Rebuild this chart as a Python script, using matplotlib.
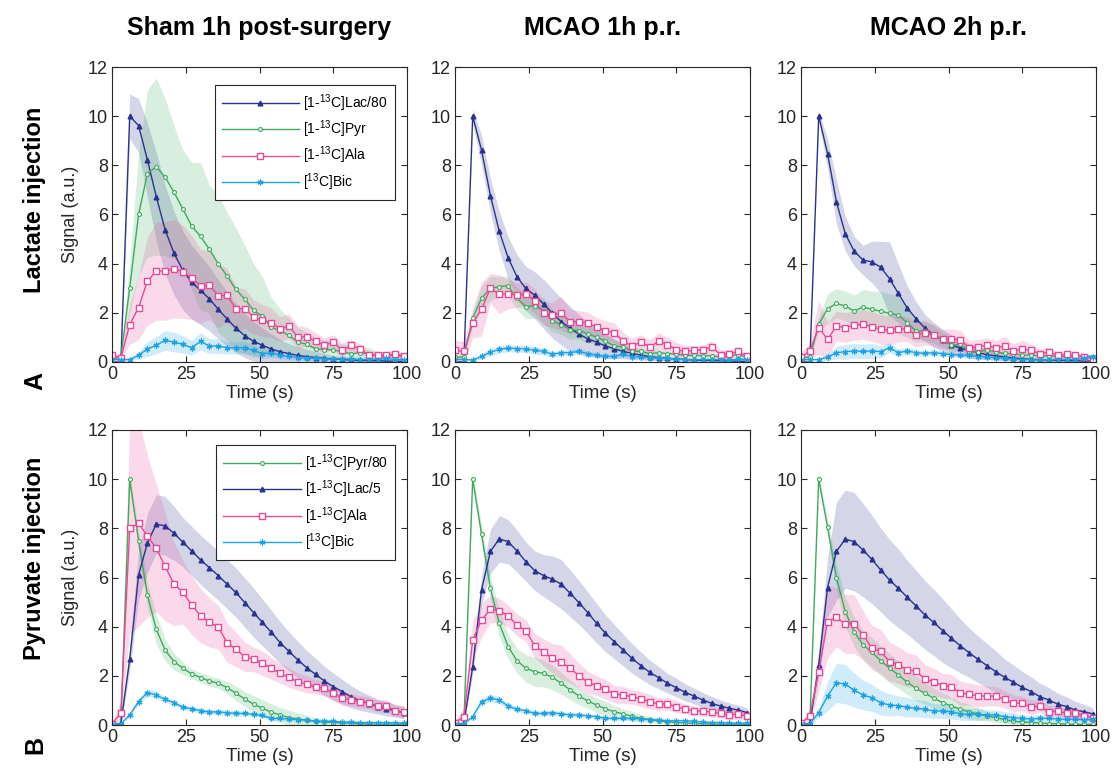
import numpy as np
import matplotlib
matplotlib.use('Agg')
import matplotlib.pyplot as plt

plt.rcParams['font.family'] = ['Liberation Sans', 'DejaVu Sans']
plt.rcParams['mathtext.fontset'] = 'custom'
plt.rcParams['mathtext.rm'] = 'Liberation Sans'
plt.rcParams['mathtext.default'] = 'regular'

# time points (s)
t = [0, 3, 6, 9, 12, 15, 18, 21, 24, 27, 30, 33, 36, 39, 42, 45, 48, 51, 54, 57,
     60, 63, 66, 69, 72, 75, 78, 81, 84, 87, 90, 93, 96, 99]

# ---- Lactate injection, Sham 1h post-surgery
a1_lac = [0, 0, 10, 9.62, 8.22, 6.73, 5.38, 4.43, 3.73, 3.25, 2.91, 2.57, 2.15, 1.75, 1.38, 1.07, 0.84, 0.68, 0.53, 0.42, 0.34, 0.27, 0.22, 0.18, 0.15, 0.12, 0.1, 0.08, 0.07, 0.06, 0.05, 0.04, 0.03, 0.03]
a1_lac_sd = [0, 0, 0.9, 1.1, 1.5, 1.8, 1.8, 1.7, 1.6, 1.5, 1.4, 1.3, 1.2, 1.1, 1.0, 0.9, 0.8, 0.7, 0.6, 0.5, 0.4, 0.35, 0.3, 0.25, 0.2, 0.15, 0.12, 0.1, 0.08, 0.06, 0.05, 0.04, 0.03, 0.03]
a1_pyr = [0.15, 0.2, 3.01, 6.0, 7.66, 7.95, 7.52, 6.91, 6.23, 5.53, 5.11, 4.59, 4.0, 3.5, 2.95, 2.56, 2.1, 1.86, 1.42, 1.26, 1.08, 0.81, 0.72, 0.54, 0.5, 0.5, 0.41, 0.34, 0.37, 0.34, 0.23, 0.23, 0.3, 0.2]
a1_pyr_sd = [0.05, 0.05, 1.0, 2.5, 3.4, 3.6, 3.2, 2.7, 2.4, 2.6, 3.0, 2.6, 2.8, 2.6, 2.5, 2.2, 1.9, 1.6, 1.2, 0.9, 0.7, 0.6, 0.5, 0.45, 0.4, 0.35, 0.3, 0.3, 0.25, 0.25, 0.2, 0.2, 0.2, 0.15]
a1_ala = [0.27, 0.16, 1.52, 2.21, 3.29, 3.7, 3.7, 3.79, 3.67, 3.43, 3.09, 3.12, 2.7, 2.71, 2.17, 2.17, 1.83, 1.69, 1.6, 1.34, 1.46, 1.02, 1.02, 0.84, 0.68, 0.81, 0.47, 0.68, 0.54, 0.3, 0.27, 0.27, 0.31, 0.24]
a1_ala_sd = [0.1, 0.1, 0.8, 1.3, 1.8, 2.0, 2.0, 2.0, 1.9, 1.7, 1.5, 1.4, 1.3, 1.1, 0.9, 0.8, 0.7, 0.65, 0.6, 0.5, 0.5, 0.45, 0.4, 0.35, 0.3, 0.3, 0.3, 0.25, 0.2, 0.15, 0.15, 0.15, 0.15, 0.1]
a1_bic = [0.1, 0.1, 0.1, 0.27, 0.53, 0.68, 0.88, 0.81, 0.72, 0.58, 0.84, 0.65, 0.65, 0.58, 0.58, 0.58, 0.47, 0.34, 0.37, 0.27, 0.23, 0.18, 0.15, 0.15, 0.13, 0.12, 0.12, 0.12, 0.1, 0.1, 0.1, 0.15, 0.1, 0.1]
a1_bic_sd = [0.05, 0.05, 0.05, 0.15, 0.3, 0.35, 0.4, 0.4, 0.35, 0.3, 0.35, 0.3, 0.3, 0.25, 0.25, 0.25, 0.2, 0.2, 0.2, 0.15, 0.15, 0.1, 0.1, 0.1, 0.1, 0.1, 0.1, 0.1, 0.1, 0.1, 0.1, 0.1, 0.1, 0.08]

# ---- Lactate injection, MCAO 1h p.r.
a2_lac = [0, 0, 10, 8.62, 6.77, 5.32, 4.24, 3.47, 2.99, 2.72, 2.36, 1.98, 1.64, 1.37, 1.14, 0.94, 0.81, 0.65, 0.54, 0.43, 0.35, 0.28, 0.22, 0.18, 0.15, 0.12, 0.1, 0.08, 0.07, 0.06, 0.05, 0.04, 0.03, 0.03]
a2_lac_sd = [0, 0, 0.3, 0.6, 0.7, 0.8, 0.85, 0.9, 0.9, 0.95, 1.0, 1.0, 0.95, 0.9, 0.8, 0.7, 0.6, 0.5, 0.4, 0.3, 0.25, 0.2, 0.15, 0.12, 0.1, 0.08, 0.07, 0.06, 0.05, 0.05, 0.04, 0.03, 0.03, 0.03]
a2_pyr = [0.2, 0.2, 1.78, 2.6, 2.99, 3.07, 3.1, 2.59, 2.25, 2.29, 2.09, 1.68, 1.52, 1.32, 1.28, 1.14, 1.01, 0.85, 0.65, 0.61, 0.44, 0.43, 0.34, 0.38, 0.34, 0.31, 0.27, 0.27, 0.25, 0.25, 0.2, 0.25, 0.3, 0.2]
a2_pyr_sd = [0.05, 0.05, 0.3, 0.5, 0.5, 0.4, 0.4, 0.45, 0.5, 0.5, 0.5, 0.45, 0.4, 0.4, 0.35, 0.35, 0.3, 0.3, 0.25, 0.2, 0.15, 0.15, 0.12, 0.1, 0.1, 0.1, 0.1, 0.1, 0.1, 0.1, 0.1, 0.1, 0.1, 0.1]
a2_ala = [0.47, 0.43, 1.58, 2.15, 3.0, 2.76, 2.76, 2.72, 2.76, 2.49, 1.99, 1.91, 1.99, 1.64, 1.64, 1.58, 1.41, 1.28, 1.19, 0.85, 0.65, 0.81, 0.61, 0.84, 0.71, 0.5, 0.43, 0.47, 0.5, 0.61, 0.3, 0.34, 0.43, 0.23]
a2_ala_sd = [0.4, 0.4, 0.6, 1.1, 0.6, 0.8, 0.6, 0.5, 0.5, 0.5, 0.5, 0.5, 0.7, 0.5, 0.45, 0.45, 0.4, 0.4, 0.4, 0.35, 0.3, 0.3, 0.3, 0.35, 0.3, 0.3, 0.25, 0.2, 0.2, 0.25, 0.2, 0.15, 0.15, 0.1]
a2_bic = [0.1, 0.1, 0.08, 0.23, 0.4, 0.51, 0.57, 0.54, 0.54, 0.47, 0.44, 0.31, 0.38, 0.38, 0.43, 0.34, 0.27, 0.23, 0.23, 0.31, 0.22, 0.2, 0.18, 0.15, 0.15, 0.12, 0.1, 0.1, 0.1, 0.1, 0.1, 0.08, 0.12, 0.1]
a2_bic_sd = [0.03, 0.03, 0.03, 0.1, 0.15, 0.15, 0.15, 0.15, 0.15, 0.15, 0.15, 0.12, 0.12, 0.12, 0.12, 0.12, 0.1, 0.1, 0.1, 0.1, 0.08, 0.08, 0.08, 0.08, 0.07, 0.07, 0.07, 0.06, 0.06, 0.06, 0.06, 0.06, 0.06, 0.06]

# ---- Lactate injection, MCAO 2h p.r.
a3_lac = [0, 0, 10, 8.48, 6.52, 5.22, 4.51, 4.15, 4.07, 3.86, 3.39, 2.79, 2.2, 1.76, 1.38, 1.11, 0.88, 0.7, 0.57, 0.46, 0.38, 0.3, 0.25, 0.2, 0.16, 0.13, 0.11, 0.09, 0.08, 0.07, 0.06, 0.05, 0.04, 0.04]
a3_lac_sd = [0, 0, 0.2, 0.6, 0.9, 0.7, 0.6, 0.6, 0.85, 1.05, 1.5, 1.2, 0.9, 0.7, 0.55, 0.5, 0.45, 0.4, 0.35, 0.3, 0.25, 0.2, 0.18, 0.15, 0.12, 0.1, 0.08, 0.07, 0.06, 0.05, 0.05, 0.04, 0.04, 0.04]
a3_pyr = [0.18, 0.2, 1.53, 2.17, 2.38, 2.28, 2.07, 2.24, 2.14, 2.07, 1.98, 1.91, 1.6, 1.26, 1.26, 1.12, 0.92, 0.68, 0.72, 0.41, 0.41, 0.49, 0.41, 0.35, 0.34, 0.28, 0.28, 0.25, 0.25, 0.22, 0.22, 0.22, 0.25, 0.22]
a3_pyr_sd = [0.05, 0.05, 0.3, 0.6, 0.6, 0.6, 0.65, 0.7, 0.75, 0.8, 0.8, 0.75, 0.6, 0.45, 0.4, 0.35, 0.3, 0.3, 0.25, 0.2, 0.2, 0.15, 0.15, 0.12, 0.12, 0.1, 0.1, 0.1, 0.1, 0.1, 0.1, 0.1, 0.1, 0.1]
a3_ala = [0.2, 0.45, 1.4, 0.92, 1.46, 1.4, 1.5, 1.53, 1.44, 1.33, 1.29, 1.36, 1.33, 1.1, 1.19, 1.08, 0.92, 0.95, 0.89, 0.58, 0.62, 0.68, 0.57, 0.65, 0.43, 0.54, 0.47, 0.34, 0.41, 0.27, 0.31, 0.28, 0.22, 0.14]
a3_ala_sd = [0.2, 0.3, 1.1, 0.7, 0.6, 0.6, 0.6, 0.6, 0.6, 0.6, 0.6, 0.55, 0.5, 0.5, 0.5, 0.45, 0.4, 0.4, 0.4, 0.3, 0.3, 0.3, 0.3, 0.4, 0.3, 0.35, 0.25, 0.2, 0.2, 0.15, 0.15, 0.15, 0.12, 0.1]
a3_bic = [0.1, 0.1, 0.1, 0.2, 0.38, 0.42, 0.45, 0.43, 0.45, 0.42, 0.58, 0.38, 0.45, 0.38, 0.35, 0.38, 0.34, 0.3, 0.28, 0.27, 0.22, 0.2, 0.18, 0.15, 0.12, 0.1, 0.1, 0.08, 0.1, 0.1, 0.1, 0.1, 0.15, 0.22]
a3_bic_sd = [0.03, 0.03, 0.05, 0.15, 0.25, 0.3, 0.3, 0.3, 0.3, 0.25, 0.2, 0.15, 0.15, 0.12, 0.12, 0.12, 0.1, 0.1, 0.1, 0.1, 0.1, 0.1, 0.08, 0.08, 0.08, 0.08, 0.08, 0.08, 0.08, 0.08, 0.08, 0.08, 0.08, 0.08]

# ---- Pyruvate injection, Sham 1h post-surgery
b1_pyr = [0.07, 0.04, 10, 7.5, 5.29, 3.89, 3.05, 2.58, 2.31, 2.08, 1.93, 1.79, 1.7, 1.52, 1.29, 1.06, 0.85, 0.68, 0.52, 0.41, 0.3, 0.25, 0.2, 0.15, 0.12, 0.1, 0.08, 0.06, 0.05, 0.04, 0.04, 0.03, 0.03, 0.03]
b1_pyr_sd = [0.03, 0.03, 0.2, 0.4, 0.5, 0.6, 0.45, 0.35, 0.25, 0.2, 0.2, 0.2, 0.2, 0.25, 0.3, 0.3, 0.35, 0.35, 0.35, 0.3, 0.3, 0.25, 0.2, 0.15, 0.12, 0.1, 0.08, 0.06, 0.05, 0.05, 0.04, 0.04, 0.03, 0.03]
b1_lac = [0.05, 0.05, 2.67, 6.1, 7.4, 8.17, 8.1, 7.8, 7.44, 7.08, 6.72, 6.4, 6.08, 5.73, 5.39, 4.98, 4.57, 4.17, 3.77, 3.35, 2.99, 2.65, 2.33, 2.06, 1.79, 1.56, 1.36, 1.15, 0.99, 0.87, 0.75, 0.66, 0.58, 0.5]
b1_lac_sd = [0.03, 0.03, 0.5, 1.0, 1.2, 1.2, 1.2, 1.1, 1.0, 1.0, 1.0, 1.0, 1.0, 1.0, 1.0, 1.0, 1.0, 0.95, 0.9, 0.85, 0.8, 0.75, 0.7, 0.65, 0.6, 0.55, 0.5, 0.45, 0.4, 0.35, 0.3, 0.3, 0.25, 0.25]
b1_ala = [0.04, 0.5, 8.0, 8.2, 7.69, 7.19, 6.45, 5.74, 5.4, 4.88, 4.45, 4.18, 3.98, 3.35, 3.08, 2.78, 2.67, 2.51, 2.31, 2.1, 1.94, 1.76, 1.66, 1.56, 1.49, 1.29, 1.09, 1.02, 0.95, 0.91, 0.77, 0.77, 0.58, 0.54]
b1_ala_sd = [0.05, 0.5, 4.3, 4.2, 3.3, 2.6, 2.2, 1.7, 1.3, 1.2, 1.1, 1.0, 0.9, 0.8, 0.7, 0.6, 0.5, 0.5, 0.45, 0.4, 0.4, 0.35, 0.35, 0.3, 0.3, 0.3, 0.3, 0.25, 0.25, 0.25, 0.25, 0.25, 0.25, 0.25]
b1_bic = [0.05, 0.05, 0.41, 0.95, 1.32, 1.22, 1.04, 0.91, 0.72, 0.66, 0.58, 0.53, 0.53, 0.5, 0.47, 0.47, 0.43, 0.39, 0.27, 0.27, 0.24, 0.22, 0.2, 0.16, 0.15, 0.15, 0.12, 0.12, 0.1, 0.1, 0.1, 0.1, 0.09, 0.08]
b1_bic_sd = [0.03, 0.03, 0.08, 0.12, 0.15, 0.15, 0.12, 0.1, 0.1, 0.1, 0.1, 0.1, 0.1, 0.12, 0.12, 0.1, 0.08, 0.08, 0.08, 0.07, 0.07, 0.07, 0.06, 0.06, 0.06, 0.06, 0.05, 0.05, 0.05, 0.05, 0.05, 0.05, 0.05, 0.05]

# ---- Pyruvate injection, MCAO 1h p.r.
b2_pyr = [0.05, 0.05, 10, 7.76, 5.56, 4.14, 3.19, 2.62, 2.31, 2.17, 2.1, 1.94, 1.7, 1.43, 1.18, 0.98, 0.81, 0.66, 0.54, 0.45, 0.35, 0.28, 0.22, 0.17, 0.13, 0.1, 0.08, 0.06, 0.05, 0.04, 0.03, 0.03, 0.03, 0.02]
b2_pyr_sd = [0.03, 0.03, 0.2, 0.4, 0.5, 0.55, 0.5, 0.5, 0.55, 0.6, 0.55, 0.5, 0.45, 0.4, 0.35, 0.3, 0.3, 0.3, 0.25, 0.2, 0.2, 0.15, 0.12, 0.1, 0.08, 0.07, 0.06, 0.05, 0.05, 0.04, 0.04, 0.03, 0.03, 0.03]
b2_lac = [0.05, 0.05, 2.37, 5.5, 7.06, 7.57, 7.46, 7.08, 6.65, 6.28, 6.08, 5.93, 5.73, 5.36, 4.98, 4.57, 4.14, 3.73, 3.39, 3.05, 2.71, 2.42, 2.14, 1.93, 1.7, 1.52, 1.33, 1.18, 1.02, 0.88, 0.77, 0.68, 0.61, 0.5]
b2_lac_sd = [0.03, 0.03, 0.3, 0.6, 0.9, 0.95, 0.9, 0.85, 0.8, 0.8, 0.85, 0.95, 1.0, 0.95, 0.9, 0.85, 0.8, 0.75, 0.7, 0.65, 0.6, 0.55, 0.5, 0.45, 0.4, 0.38, 0.35, 0.32, 0.3, 0.28, 0.25, 0.22, 0.2, 0.2]
b2_ala = [0.1, 0.34, 3.46, 4.27, 4.71, 4.65, 4.44, 4.07, 3.84, 3.23, 2.96, 2.71, 2.55, 2.31, 2.01, 1.74, 1.6, 1.45, 1.26, 1.22, 1.15, 1.06, 0.95, 0.85, 0.85, 0.75, 0.65, 0.57, 0.57, 0.52, 0.47, 0.41, 0.43, 0.38]
b2_ala_sd = [0.1, 0.3, 0.8, 0.7, 0.55, 0.5, 0.45, 0.45, 0.45, 0.5, 0.55, 0.6, 0.7, 0.6, 0.5, 0.45, 0.4, 0.4, 0.35, 0.35, 0.3, 0.3, 0.3, 0.25, 0.25, 0.25, 0.2, 0.2, 0.2, 0.2, 0.2, 0.2, 0.2, 0.2]
b2_bic = [0.05, 0.05, 0.34, 0.95, 1.09, 1.02, 0.77, 0.64, 0.58, 0.47, 0.47, 0.5, 0.45, 0.41, 0.41, 0.37, 0.34, 0.27, 0.27, 0.27, 0.27, 0.25, 0.22, 0.2, 0.17, 0.17, 0.17, 0.15, 0.12, 0.1, 0.1, 0.08, 0.08, 0.08]
b2_bic_sd = [0.03, 0.03, 0.08, 0.12, 0.15, 0.15, 0.12, 0.1, 0.1, 0.1, 0.1, 0.1, 0.1, 0.1, 0.1, 0.1, 0.08, 0.08, 0.07, 0.07, 0.07, 0.06, 0.06, 0.06, 0.05, 0.05, 0.05, 0.05, 0.05, 0.05, 0.05, 0.05, 0.05, 0.05]

# ---- Pyruvate injection, MCAO 2h p.r.
b3_pyr = [0.05, 0.05, 10, 8.05, 6.0, 4.61, 3.8, 3.26, 2.96, 2.62, 2.31, 2.04, 1.74, 1.49, 1.29, 1.09, 0.91, 0.77, 0.64, 0.54, 0.45, 0.37, 0.3, 0.22, 0.15, 0.12, 0.1, 0.08, 0.06, 0.05, 0.04, 0.03, 0.03, 0.03]
b3_pyr_sd = [0.03, 0.03, 0.2, 0.3, 0.5, 0.6, 0.6, 0.6, 0.6, 0.6, 0.6, 0.55, 0.5, 0.5, 0.45, 0.4, 0.4, 0.35, 0.3, 0.3, 0.25, 0.2, 0.2, 0.15, 0.12, 0.1, 0.08, 0.07, 0.06, 0.05, 0.05, 0.04, 0.04, 0.03]
b3_lac = [0.05, 0.05, 2.44, 5.59, 7.06, 7.56, 7.46, 7.12, 6.74, 6.31, 5.9, 5.56, 5.2, 4.84, 4.48, 4.17, 3.84, 3.53, 3.22, 2.94, 2.67, 2.42, 2.17, 1.94, 1.74, 1.53, 1.36, 1.15, 1.02, 0.85, 0.75, 0.61, 0.54, 0.45]
b3_lac_sd = [0.03, 0.03, 0.5, 1.2, 2.0, 2.0, 2.0, 1.9, 1.8, 1.7, 1.65, 1.6, 1.5, 1.45, 1.4, 1.35, 1.3, 1.2, 1.1, 1.0, 0.95, 0.9, 0.85, 0.75, 0.7, 0.65, 0.6, 0.55, 0.5, 0.45, 0.4, 0.35, 0.3, 0.25]
b3_ala = [0.07, 0.37, 2.17, 4.21, 4.38, 4.11, 4.11, 3.66, 3.15, 2.99, 2.58, 2.44, 2.24, 2.2, 1.86, 1.76, 1.6, 1.56, 1.29, 1.26, 1.18, 1.18, 1.18, 1.04, 0.88, 0.88, 0.72, 0.77, 0.54, 0.57, 0.47, 0.47, 0.38, 0.3]
b3_ala_sd = [0.05, 0.3, 0.8, 1.5, 1.2, 1.2, 1.2, 1.0, 0.9, 0.9, 0.8, 0.75, 0.7, 0.65, 0.6, 0.55, 0.5, 0.5, 0.5, 0.45, 0.45, 0.4, 0.4, 0.35, 0.35, 0.3, 0.3, 0.25, 0.25, 0.2, 0.2, 0.2, 0.15, 0.15]
b3_bic = [0.05, 0.05, 0.5, 1.18, 1.72, 1.66, 1.42, 1.22, 1.11, 0.91, 0.81, 0.79, 0.72, 0.68, 0.64, 0.57, 0.57, 0.54, 0.45, 0.43, 0.43, 0.41, 0.41, 0.34, 0.3, 0.27, 0.24, 0.27, 0.27, 0.24, 0.23, 0.23, 0.2, 0.23]
b3_bic_sd = [0.03, 0.03, 0.2, 0.6, 0.8, 0.8, 0.7, 0.6, 0.55, 0.5, 0.45, 0.4, 0.4, 0.35, 0.35, 0.3, 0.3, 0.3, 0.25, 0.25, 0.25, 0.2, 0.2, 0.2, 0.2, 0.15, 0.15, 0.15, 0.15, 0.15, 0.15, 0.15, 0.15, 0.15]

col_titles = ['Sham 1h post-surgery', 'MCAO 1h p.r.', 'MCAO 2h p.r.']
row_titles = ['Lactate injection', 'Pyruvate injection']
row_letters = ['A', 'B']

# colours and marker styles per metabolite
c_lac = '#29338F'
c_pyr = '#3DAB5C'
c_ala = '#EA4898'
c_bic = '#1CA2E4'
styles = {
    'lac': dict(color=c_lac, marker='^', ms=3.4, mfc=c_lac, mec=c_lac),
    'pyr': dict(color=c_pyr, marker='o', ms=2.8, mfc='white', mec=c_pyr, mew=0.8),
    'ala': dict(color=c_ala, marker='s', ms=4.3, mfc='white', mec=c_ala, mew=1.0),
    'bic': dict(color=c_bic, marker=(6, 2, 0), ms=4.2, mec=c_bic, mew=0.9),
}

row_a = [
    [('lac', a1_lac, a1_lac_sd), ('pyr', a1_pyr, a1_pyr_sd), ('ala', a1_ala, a1_ala_sd), ('bic', a1_bic, a1_bic_sd)],
    [('lac', a2_lac, a2_lac_sd), ('pyr', a2_pyr, a2_pyr_sd), ('ala', a2_ala, a2_ala_sd), ('bic', a2_bic, a2_bic_sd)],
    [('lac', a3_lac, a3_lac_sd), ('pyr', a3_pyr, a3_pyr_sd), ('ala', a3_ala, a3_ala_sd), ('bic', a3_bic, a3_bic_sd)],
]
row_b = [
    [('pyr', b1_pyr, b1_pyr_sd), ('lac', b1_lac, b1_lac_sd), ('ala', b1_ala, b1_ala_sd), ('bic', b1_bic, b1_bic_sd)],
    [('pyr', b2_pyr, b2_pyr_sd), ('lac', b2_lac, b2_lac_sd), ('ala', b2_ala, b2_ala_sd), ('bic', b2_bic, b2_bic_sd)],
    [('pyr', b3_pyr, b3_pyr_sd), ('lac', b3_lac, b3_lac_sd), ('ala', b3_ala, b3_ala_sd), ('bic', b3_bic, b3_bic_sd)],
]
labels_a = {'lac': '[1-$^{13}$C]Lac/80', 'pyr': '[1-$^{13}$C]Pyr',
            'ala': '[1-$^{13}$C]Ala', 'bic': '[$^{13}$C]Bic'}
labels_b = {'pyr': '[1-$^{13}$C]Pyr/80', 'lac': '[1-$^{13}$C]Lac/5',
            'ala': '[1-$^{13}$C]Ala', 'bic': '[$^{13}$C]Bic'}

W, H = 1113, 775
fig = plt.figure(figsize=(W / 100, H / 100), dpi=100)

col_left = [112, 455, 801]
row_top = [67, 430]
ax_w, ax_h = 295, 295

x = np.array(t)
for r, (rowdata, labels) in enumerate([(row_a, labels_a), (row_b, labels_b)]):
    for c in range(3):
        ax = fig.add_axes([col_left[c] / W, 1 - (row_top[r] + ax_h) / H, ax_w / W, ax_h / H])
        series = rowdata[c]
        for key, m, sd in series:
            m = np.array(m)
            sd = np.array(sd)
            ax.fill_between(x, m - sd, m + sd, color=styles[key]['color'], alpha=0.2, lw=0)
        for key, m, sd in series:
            ax.plot(x, m, lw=1.0, label=labels[key], **styles[key])
        ax.set_xlim(0, 100)
        ax.set_ylim(0, 12)
        ax.set_xticks([0, 25, 50, 75, 100])
        ax.set_yticks([0, 2, 4, 6, 8, 10, 12])
        ax.tick_params(direction='in', top=True, right=True, length=4, width=0.8,
                       labelsize=13, colors='#262626', pad=3)
        for s in ax.spines.values():
            s.set_color('#262626')
            s.set_linewidth(0.8)
        ax.set_xlabel('Time (s)', fontsize=13.5, color='#262626', labelpad=1)
        if c == 0:
            ax.set_ylabel('Signal (a.u.)', fontsize=13, color='#262626', labelpad=6)
            top = 0.939 if r == 0 else 0.949
            leg = ax.legend(loc='upper right', bbox_to_anchor=(0.959, top), fontsize=10,
                            handlelength=5.6, handletextpad=0.3, labelspacing=0.35,
                            borderpad=0.5, numpoints=1, fancybox=False, framealpha=1,
                            edgecolor='#262626', borderaxespad=0)
            leg.get_frame().set_linewidth(0.8)
        if r == 0:
            fig.text((col_left[c] + ax_w / 2) / W, 1 - 28 / H, col_titles[c],
                     ha='center', va='center', fontsize=18, fontweight='bold')

for r in range(2):
    yc = [200, 558][r]
    fig.text(35 / W, 1 - yc / H, row_titles[r], rotation=90, ha='center', va='center',
             fontsize=17, fontweight='bold')
    yl = [381, 745][r]
    fig.text(35 / W, 1 - yl / H, row_letters[r], rotation=90, ha='center', va='center',
             fontsize=18, fontweight='bold')

fig.savefig('out.png', dpi=100)
